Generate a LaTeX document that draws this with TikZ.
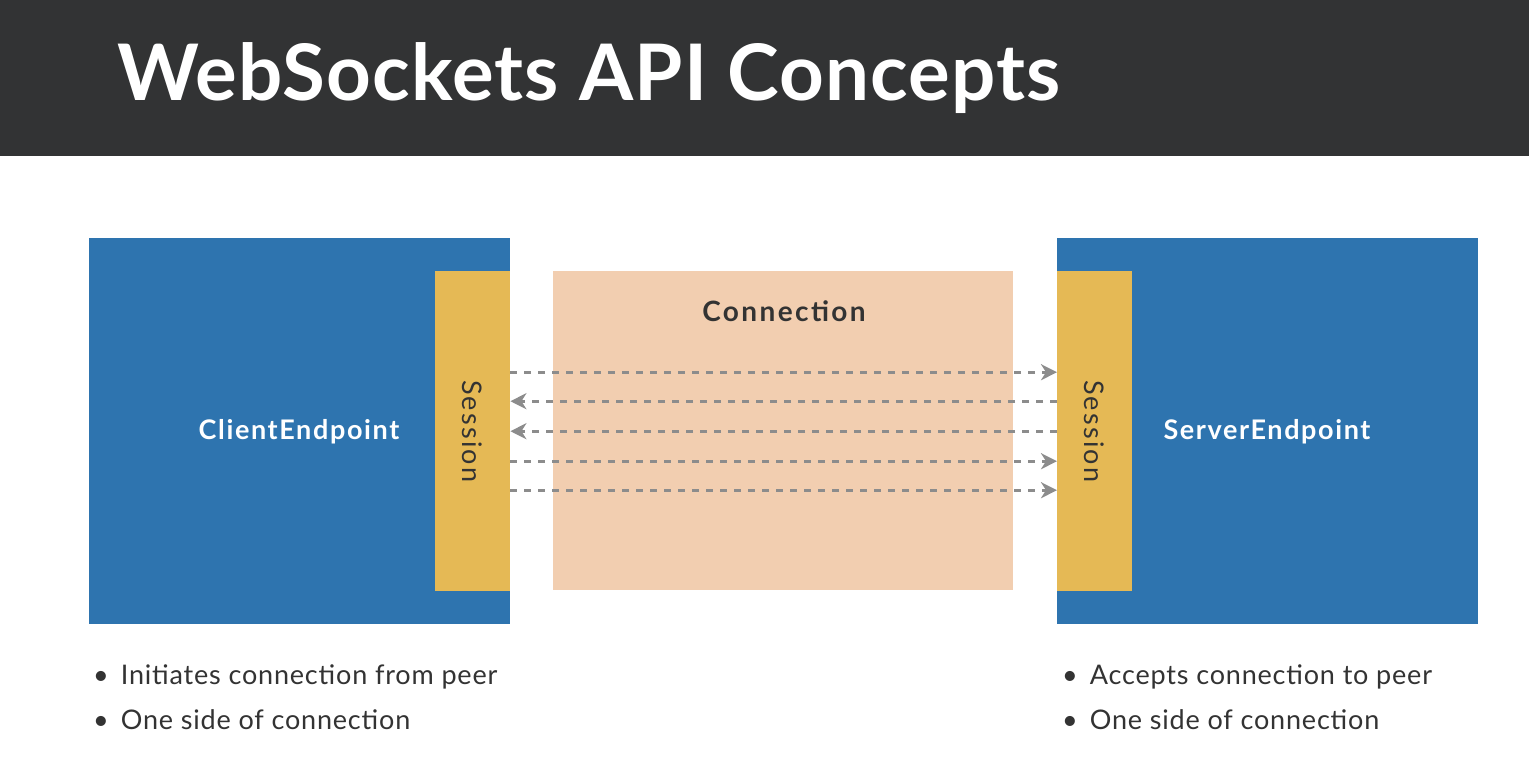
\documentclass[tikz,border=0pt]{standalone}
\usepackage{fontspec}
\setmainfont{Lato}
\usetikzlibrary{arrows.meta}
\definecolor{barc}{HTML}{323334}
\definecolor{bluec}{HTML}{2E74AF}
\definecolor{goldc}{HTML}{E5B955}
\definecolor{peachc}{HTML}{F2CEB0}
\definecolor{arrc}{HTML}{8C8C8C}
\definecolor{txtc}{HTML}{333333}
\tikzset{
  endbox/.style={fill=bluec, draw=none, anchor=north west, minimum width=421pt, minimum height=386pt, inner sep=0pt},
  sessbox/.style={fill=goldc, draw=none, anchor=north west, minimum width=75pt, minimum height=320pt, inner sep=0pt},
  connbox/.style={fill=peachc, draw=none, anchor=north west, minimum width=460pt, minimum height=319pt, inner sep=0pt},
  lbl/.style={font=\fontsize{27}{30}\selectfont\bfseries\addfontfeature{LetterSpace=6}, text=white, inner sep=0pt},
  sesslbl/.style={font=\fontsize{27}{30}\selectfont\addfontfeature{LetterSpace=8}, text=txtc, rotate=-90, inner sep=0pt},
  bullet/.style={font=\fontsize{27}{30}\selectfont\addfontfeature{LetterSpace=3}, text=txtc, anchor=base west, inner sep=0pt},
  arr/.style={draw=arrc, line width=3pt, dash pattern=on 7pt off 7pt, -{Stealth[length=16pt,width=16pt,inset=5pt]}},
}
\begin{document}
\begin{tikzpicture}[x=1pt,y=-1pt]
\useasboundingbox (0,0) rectangle (1529,779);
\fill[white] (0,0) rectangle (1529,779);
\fill[barc] (0,0) rectangle (1529,156);
\node[anchor=base west, inner sep=0pt, text=white, font=\fontsize{78}{80}\selectfont\bfseries\addfontfeature{LetterSpace=1.5}] (title) at (117,100) {WebSockets API Concepts};

\node[endbox] (client) at (89,238) {};
\node[endbox] (server) at (1057,238) {};
\node[sessbox] (lsess) at (435,271) {};
\node[sessbox] (rsess) at (1057,271) {};
\node[connbox] (conn) at (553,271) {};

\node[lbl] (clientlbl) at (299,432) {ClientEndpoint};
\node[lbl] (serverlbl) at (1267,432) {ServerEndpoint};
\node[sesslbl] (lsesslbl) at (lsess.center) {Session};
\node[sesslbl] (rsesslbl) at (rsess.center) {Session};
\node[font=\fontsize{28}{32}\selectfont\bfseries\addfontfeature{LetterSpace=8.5}, text=txtc, inner sep=0pt] (connlbl) at (784,311) {Connection};

\draw[arr] ([yshift=59pt]lsess.east) -- ([yshift=59pt]rsess.west);
\draw[arr] ([yshift=30pt]rsess.west) -- ([yshift=30pt]lsess.east);
\draw[arr] (rsess.west) -- (lsess.east);
\draw[arr] ([yshift=-30pt]lsess.east) -- ([yshift=-30pt]rsess.west);
\draw[arr] ([yshift=-59pt]lsess.east) -- ([yshift=-59pt]rsess.west);

\node[bullet] (b1) at (93,684) {•\hspace{12pt}Initiates connection from peer};
\node[bullet] (b2) at (93,729) {•\hspace{12pt}One side of connection};
\node[bullet] (b3) at (1062,684) {•\hspace{12pt}Accepts connection to peer};
\node[bullet] (b4) at (1062,729) {•\hspace{12pt}One side of connection};
\end{tikzpicture}
\end{document}
